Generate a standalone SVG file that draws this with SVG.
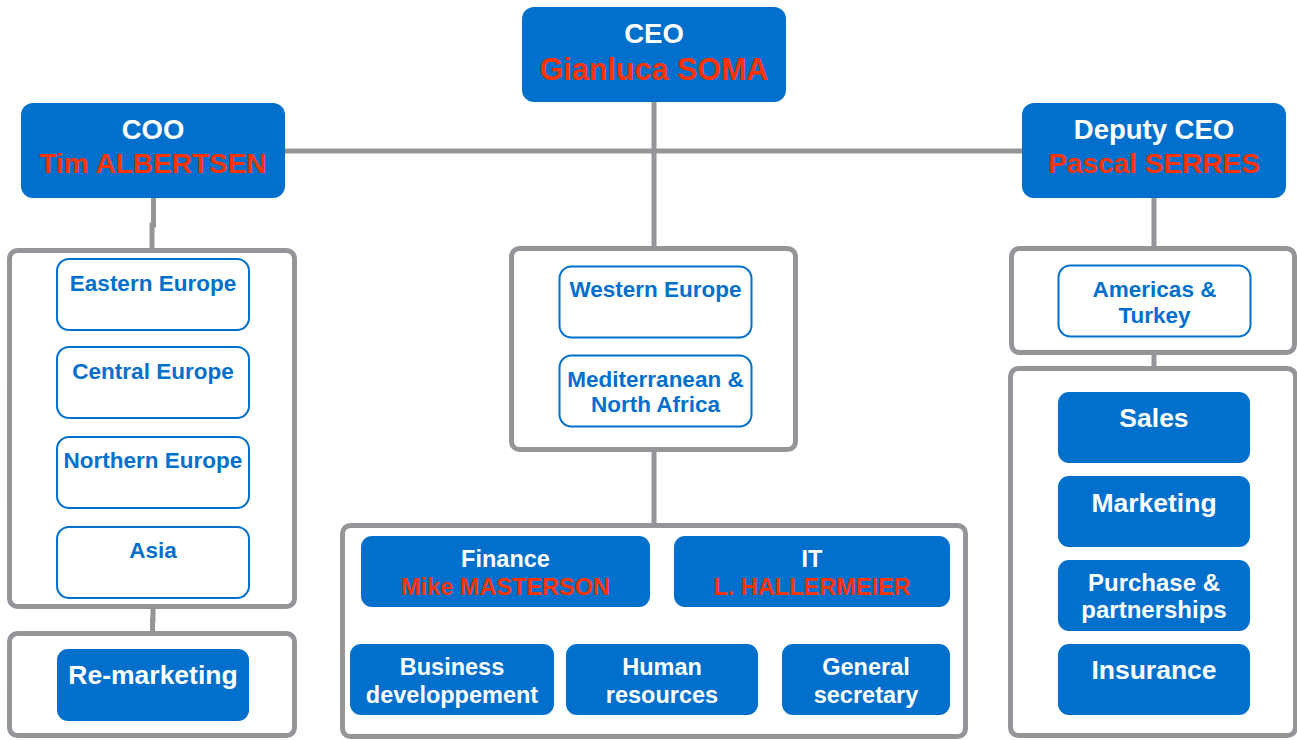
<svg xmlns="http://www.w3.org/2000/svg" width="1297" height="740" viewBox="0 0 1297 740">
  <style>
    text { font-family: "Liberation Sans", Arial, sans-serif; font-weight: bold; text-anchor: middle; }
    .panel { fill: #ffffff; stroke: #939598; stroke-width: 5; }
    .solid { fill: #0070CC; }
    .outline { fill: #ffffff; stroke: #0070CC; stroke-width: 2; }
    .wire { fill: none; stroke: #939598; stroke-width: 5; }
    .head { fill: #ffffff; font-size: 27.5px; }
    .name { fill: #FF3300; font-size: 28px; }
    .region { fill: #0070CC; font-size: 22.5px; }
    .dept { fill: #ffffff; font-size: 26.5px; }
    .staff { fill: #ffffff; font-size: 23.5px; }
    .staffname { fill: #FF3300; font-size: 23.5px; }
  </style>

  <rect width="1297" height="740" fill="#ffffff"/>

  <!-- connectors -->
  <g id="connectors">
    <line class="wire" x1="285" y1="151" x2="1022" y2="151"/>
    <line class="wire" x1="654" y1="102" x2="654" y2="248"/>
    <path class="wire" d="M153.5,198 V225 H152 V250"/>
    <path class="wire" d="M153,607 V620 H152.5 V633"/>
    <line class="wire" x1="654" y1="450" x2="654" y2="525"/>
    <line class="wire" x1="1154" y1="198" x2="1154" y2="248"/>
    <line class="wire" x1="1154" y1="353" x2="1154" y2="368"/>
  </g>

  <!-- CEO -->
  <g id="ceo">
    <rect class="solid" x="522" y="7" width="264" height="95" rx="12"/>
    <text class="head" x="654" y="43">CEO</text>
    <text class="name" x="654" y="80" style="font-size:30.5px">Gianluca SOMA</text>
  </g>

  <!-- COO -->
  <g id="coo">
    <rect class="solid" x="21" y="103" width="264" height="95" rx="12"/>
    <text class="head" x="153" y="139">COO</text>
    <text class="name" x="153" y="173">Tim ALBERTSEN</text>
  </g>

  <!-- Deputy CEO -->
  <g id="deputy-ceo">
    <rect class="solid" x="1022" y="103" width="264" height="95" rx="12"/>
    <text class="head" x="1154" y="139">Deputy CEO</text>
    <text class="name" x="1154" y="173">Pascal SERRES</text>
  </g>

  <!-- COO regions -->
  <g id="coo-regions">
    <rect class="panel" x="9.5" y="250.5" width="285" height="356" rx="8"/>
    <g id="eastern-europe">
      <rect class="outline" x="57" y="259" width="192" height="71" rx="12"/>
      <text class="region" x="153" y="291">Eastern Europe</text>
    </g>
    <g id="central-europe">
      <rect class="outline" x="57" y="347" width="192" height="71" rx="12"/>
      <text class="region" x="153" y="379">Central Europe</text>
    </g>
    <g id="northern-europe">
      <rect class="outline" x="57" y="437" width="192" height="71" rx="12"/>
      <text class="region" x="153" y="468">Northern Europe</text>
    </g>
    <g id="asia">
      <rect class="outline" x="57" y="527" width="192" height="71" rx="12"/>
      <text class="region" x="153" y="558">Asia</text>
    </g>
  </g>

  <!-- Re-marketing -->
  <g id="remarketing">
    <rect class="panel" x="9.5" y="633.5" width="285" height="102" rx="8"/>
    <rect class="solid" x="57" y="649" width="192" height="72" rx="11"/>
    <text class="dept" x="153" y="684">Re-marketing</text>
  </g>

  <!-- CEO regions -->
  <g id="ceo-regions">
    <rect class="panel" x="511.5" y="248.5" width="284" height="201" rx="8"/>
    <g id="western-europe">
      <rect class="outline" x="559.5" y="266.5" width="192" height="71" rx="12"/>
      <text class="region" x="655.5" y="297">Western Europe</text>
    </g>
    <g id="mediterranean">
      <rect class="outline" x="559.5" y="355.5" width="192" height="71" rx="12"/>
      <text class="region" x="655.5" y="387">Mediterranean &amp;</text>
      <text class="region" x="655.5" y="412">North Africa</text>
    </g>
  </g>

  <!-- Support functions -->
  <g id="support-functions">
    <rect class="panel" x="342.5" y="525.5" width="623" height="211" rx="8"/>
    <g id="finance">
      <rect class="solid" x="361" y="536" width="289" height="71" rx="11"/>
      <text class="staff" x="505.5" y="567">Finance</text>
      <text class="staffname" x="505.5" y="595">Mike MASTERSON</text>
    </g>
    <g id="it">
      <rect class="solid" x="674" y="536" width="276" height="71" rx="11"/>
      <text class="staff" x="812" y="567">IT</text>
      <text class="staffname" x="812" y="595">L. HALLERMEIER</text>
    </g>
    <g id="business-development">
      <rect class="solid" x="350" y="644" width="204" height="71" rx="11"/>
      <text class="staff" x="452" y="675">Business</text>
      <text class="staff" x="452" y="703">developpement</text>
    </g>
    <g id="human-resources">
      <rect class="solid" x="566" y="644" width="192" height="71" rx="11"/>
      <text class="staff" x="662" y="675">Human</text>
      <text class="staff" x="662" y="703">resources</text>
    </g>
    <g id="general-secretary">
      <rect class="solid" x="782" y="644" width="168" height="71" rx="11"/>
      <text class="staff" x="866" y="675">General</text>
      <text class="staff" x="866" y="703">secretary</text>
    </g>
  </g>

  <!-- Deputy CEO region -->
  <g id="deputy-regions">
    <rect class="panel" x="1011.5" y="248.5" width="283" height="104" rx="8"/>
    <g id="americas-turkey">
      <rect class="outline" x="1058.5" y="265.5" width="192" height="71" rx="12"/>
      <text class="region" x="1154.5" y="297">Americas &amp;</text>
      <text class="region" x="1154.5" y="323">Turkey</text>
    </g>
  </g>

  <!-- Commercial functions -->
  <g id="commercial-functions">
    <rect class="panel" x="1010.5" y="368.5" width="285" height="367" rx="8"/>
    <g id="sales">
      <rect class="solid" x="1058" y="392" width="192" height="71" rx="11"/>
      <text class="dept" x="1154" y="427">Sales</text>
    </g>
    <g id="marketing">
      <rect class="solid" x="1058" y="476" width="192" height="71" rx="11"/>
      <text class="dept" x="1154" y="512">Marketing</text>
    </g>
    <g id="purchase">
      <rect class="solid" x="1058" y="560" width="192" height="71" rx="11"/>
      <text class="dept" x="1154" y="591" style="font-size:24px">Purchase &amp;</text>
      <text class="dept" x="1154" y="618" style="font-size:24px">partnerships</text>
    </g>
    <g id="insurance">
      <rect class="solid" x="1058" y="644" width="192" height="71" rx="11"/>
      <text class="dept" x="1154" y="679">Insurance</text>
    </g>
  </g>
</svg>
